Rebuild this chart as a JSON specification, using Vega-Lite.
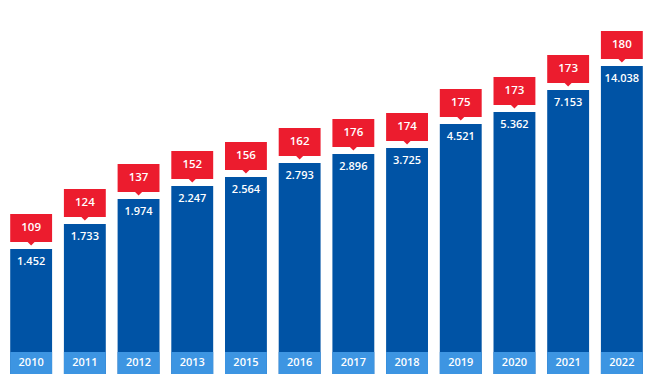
{
  "$schema": "https://vega.github.io/schema/vega-lite/v6.json",
  "width": 653,
  "height": 374,
  "padding": 0,
  "autosize": {"type": "none"},
  "background": "#ffffff",
  "config": {"view": {"stroke": null}, "font": "Open Sans"},
  "data": {
    "values": [
      {"year": "2010", "count": 109, "value": "1.452", "level": 125},
      {"year": "2011", "count": 124, "value": "1.733", "level": 150},
      {"year": "2012", "count": 137, "value": "1.974", "level": 175},
      {"year": "2013", "count": 152, "value": "2.247", "level": 188},
      {"year": "2015", "count": 156, "value": "2.564", "level": 197},
      {"year": "2016", "count": 162, "value": "2.793", "level": 211},
      {"year": "2017", "count": 176, "value": "2.896", "level": 220},
      {"year": "2018", "count": 174, "value": "3.725", "level": 226},
      {"year": "2019", "count": 175, "value": "4.521", "level": 250},
      {"year": "2020", "count": 173, "value": "5.362", "level": 262},
      {"year": "2021", "count": 173, "value": "7.153", "level": 284},
      {"year": "2022", "count": 180, "value": "14.038", "level": 308}
    ]
  },
  "encoding": {
    "x": {"field": "year", "type": "ordinal", "axis": null, "scale": {"paddingInner": 0.22, "paddingOuter": 0.19}}
  },
  "layer": [
    {
      "mark": {"type": "bar", "color": "#0053a5"},
      "encoding": {
        "y": {"field": "level", "type": "quantitative", "scale": {"domain": [0, 374], "nice": false, "zero": true}, "axis": null}
      }
    },
    {
      "mark": {"type": "bar", "color": "#3d95e2"},
      "encoding": {
        "y": {"datum": 22, "type": "quantitative"}
      }
    },
    {
      "mark": {"type": "text", "color": "#ffffff", "fontWeight": 600, "fontSize": 11, "baseline": "middle"},
      "encoding": {
        "y": {"datum": 11, "type": "quantitative"},
        "text": {"field": "year"}
      }
    },
    {
      "mark": {"type": "rect", "color": "#ec1c2e", "yOffset": -7, "y2Offset": -35},
      "encoding": {
        "y": {"field": "level", "type": "quantitative"},
        "y2": {"field": "level"}
      }
    },
    {
      "mark": {"type": "point", "shape": "M-1,0L1,0L0,1Z", "filled": true, "color": "#ec1c2e", "opacity": 1, "size": 49, "yOffset": -7, "strokeWidth": 0},
      "encoding": {
        "y": {"field": "level", "type": "quantitative"}
      }
    },
    {
      "mark": {"type": "text", "color": "#ffffff", "fontWeight": 600, "fontSize": 11.5, "baseline": "middle", "dy": -21},
      "encoding": {
        "y": {"field": "level", "type": "quantitative"},
        "text": {"field": "count"}
      }
    },
    {
      "mark": {"type": "text", "color": "#ffffff", "fontWeight": 600, "fontSize": 11, "baseline": "middle", "dy": 13},
      "encoding": {
        "y": {"field": "level", "type": "quantitative"},
        "text": {"field": "value"}
      }
    }
  ]
}
